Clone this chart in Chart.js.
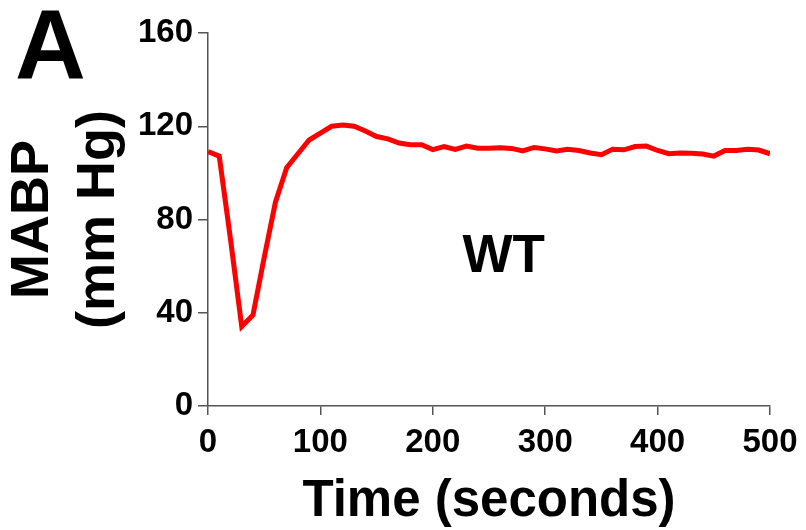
<!DOCTYPE html>
<html>
<head>
<meta charset="utf-8">
<script src="https://cdn.jsdelivr.net/npm/chart.js@4/dist/chart.umd.min.js"></script>
<style>
  html, body { margin: 0; padding: 0; background: #fff; }
  #wrap { width: 806px; height: 530px; position: relative; }
</style>
</head>
<body>
<div id="wrap"><canvas id="chart-mabp"></canvas></div>
<script>
const TIME_S = [0, 10, 20, 30, 40, 50, 60, 70, 80, 90, 100, 110, 120, 130, 140, 150, 160, 170, 180, 190,
  200, 210, 220, 230, 240, 250, 260, 270, 280, 290, 300, 310, 320, 330, 340, 350, 360, 370, 380, 390,
  400, 410, 420, 430, 440, 450, 460, 470, 480, 490, 500];
const MABP_WT = [109.1, 107.2, 71.6, 34.1, 39.0, 63.7, 87.4, 102.2, 108.2, 114.1, 117.1, 120.0, 120.5, 120.0, 118.0, 115.6, 114.6, 112.8, 112.1, 112.1,
  110.0, 111.3, 110.1, 111.5, 110.6, 110.6, 110.8, 110.5, 109.4, 110.9, 110.3, 109.4, 110.1, 109.6, 108.5, 107.8, 110.1, 109.9, 111.3, 111.5,
  109.6, 108.2, 108.5, 108.4, 108.1, 107.2, 109.6, 109.6, 110.1, 109.8, 108.2];
const X_TICKS = [0, 100, 200, 300, 400, 500];
const Y_TICKS = [0, 40, 80, 120, 160];

const FONT = "'Liberation Sans', Arial, sans-serif";
const AXIS_GREY = '#555555';

// panel letter and group label
const labelsPlugin = {
  id: 'panelLabels',
  afterDraw(chart) {
    const ctx = chart.ctx;
    const { x, y } = chart.scales;
    ctx.save();
    ctx.fillStyle = '#000';
    ctx.textBaseline = 'alphabetic';
    ctx.textAlign = 'left';
    ctx.font = 'bold 98px ' + FONT;
    ctx.fillText('A', 15, 78);
    ctx.textAlign = 'center';
    ctx.font = 'bold 53px ' + FONT;
    ctx.fillText('WT', x.getPixelForValue(263), y.getPixelForValue(57.4));
    ctx.restore();
  },
};

const canvas = document.getElementById('chart-mabp');
new Chart(canvas.getContext('2d'), {
  type: 'line',
  data: {
    datasets: [{
      label: 'WT',
      data: TIME_S.map((t, i) => ({ x: t, y: MABP_WT[i] })),
      borderColor: '#ff0000',
      borderWidth: 5,
      pointRadius: 0,
      tension: 0,
      fill: false,
    }],
  },
  options: {
    responsive: true,
    maintainAspectRatio: false,
    animation: false,
    layout: { padding: { left: 0, right: 36, top: 33, bottom: 0 } },
    plugins: { legend: { display: false }, tooltip: { enabled: false } },
    scales: {
      x: {
        type: 'linear',
        min: 0,
        max: 500,
        afterBuildTicks: (s) => { s.ticks = X_TICKS.map(v => ({ value: v })); },
        afterFit: (s) => { s.height = 124; },
        grid: { drawOnChartArea: false, drawTicks: true, tickLength: 9, color: AXIS_GREY, lineWidth: 1.5 },
        border: { color: AXIS_GREY, width: 1.5 },
        ticks: { color: '#000', padding: 8, maxRotation: 0, font: { family: FONT, size: 33, weight: 'bold' } },
        title: {
          display: true,
          text: 'Time (seconds)',
          color: '#000',
          padding: { top: 0, bottom: 3 },
          font: { family: FONT, size: 51, weight: 'bold', lineHeight: 1.0 },
        },
      },
      y: {
        min: 0,
        max: 160,
        afterBuildTicks: (s) => { s.ticks = Y_TICKS.map(v => ({ value: v })); },
        afterFit: (s) => { s.width = 208; },
        grid: { drawOnChartArea: false, drawTicks: true, tickLength: 10, color: AXIS_GREY, lineWidth: 1.5 },
        border: { color: AXIS_GREY, width: 1.5 },
        ticks: { color: '#000', padding: 5, font: { family: FONT, size: 33, weight: 'bold' } },
        title: {
          display: true,
          text: ['MABP', '(mm Hg)'],
          color: '#000',
          padding: { top: 0, bottom: 0 },
          font: { family: FONT, size: 54, weight: 'bold', lineHeight: 1.22 },
        },
      },
    },
  },
  plugins: [labelsPlugin],
});
</script>
</body>
</html>
